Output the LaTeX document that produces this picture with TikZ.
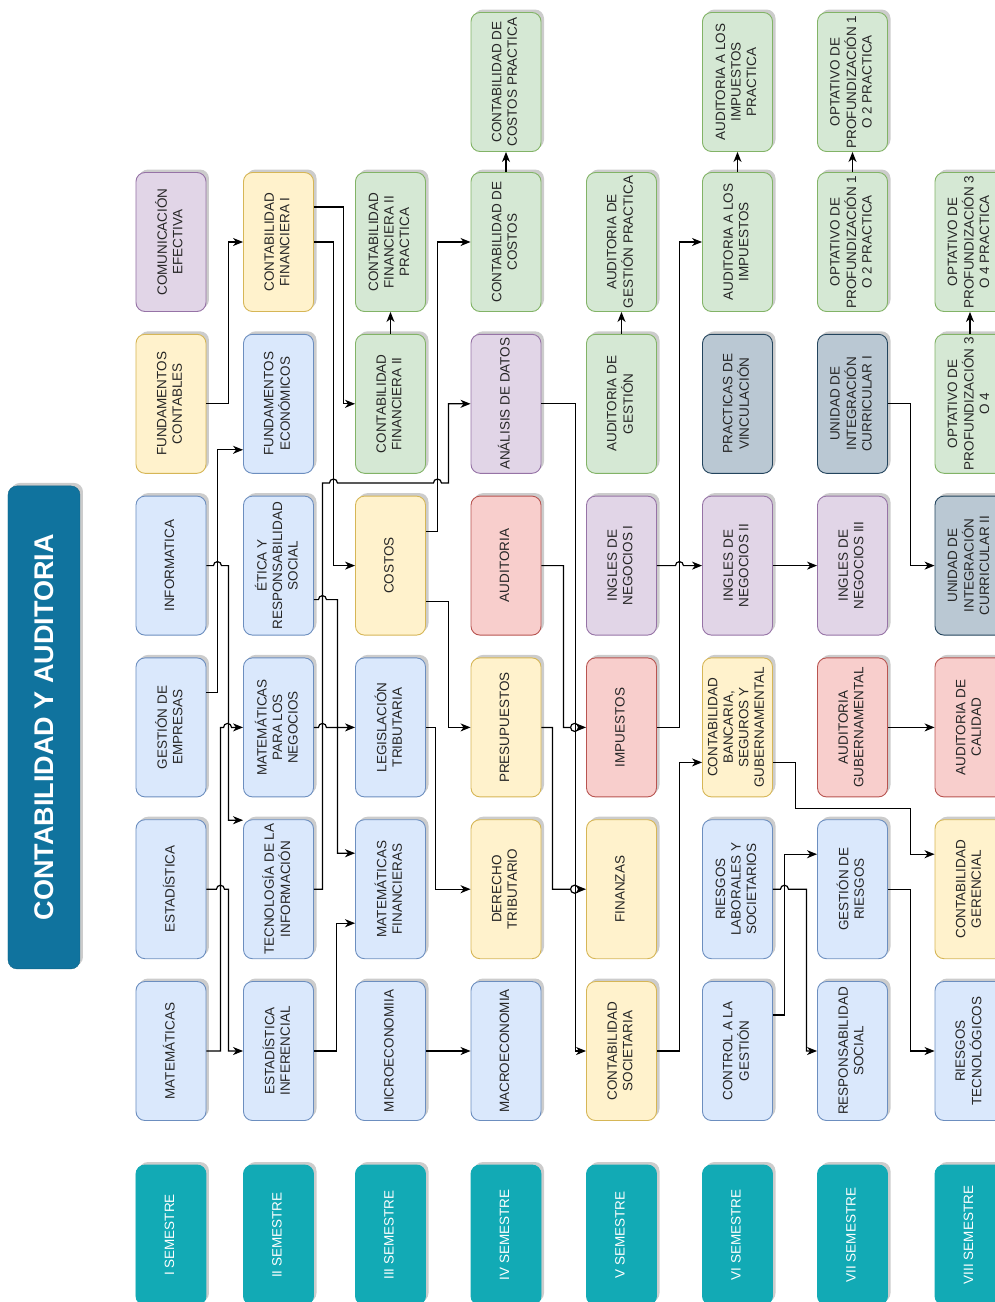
\documentclass[tikz,border=0pt]{standalone}
\usepackage{fontspec}
\setmainfont{Liberation Sans}
\usepackage{graphicx}
\usetikzlibrary{shapes,arrows.meta}
\usetikzlibrary{positioning}
\usetikzlibrary{shadows}

\definecolor{bluefill}{HTML}{DAE8FC}
\definecolor{bluedraw}{HTML}{6C8EBF}
\definecolor{yellowfill}{HTML}{FFF2CC}
\definecolor{yellowdraw}{HTML}{D6B656}
\definecolor{greenfill}{HTML}{D5E8D4}
\definecolor{greendraw}{HTML}{82B366}
\definecolor{purplefill}{HTML}{E1D5E7}
\definecolor{purpledraw}{HTML}{9673A6}
\definecolor{redfill}{HTML}{F8CECC}
\definecolor{reddraw}{HTML}{B85450}
\definecolor{grayfill}{HTML}{BAC8D3}
\definecolor{graydraw}{HTML}{23445D}
\definecolor{semfill}{HTML}{12AAB5}
\definecolor{titlefill}{HTML}{10739E}

\newcommand{\vtext}[1]{\rotatebox{90}{\begin{tabular}{@{}c@{}}#1\end{tabular}}}
\newcommand{\hop}{arc[start angle=180, end angle=0, radius=4pt]}
\newcommand{\ring}{arc[start angle=180, end angle=0, radius=4pt]
  arc[start angle=0, end angle=-180, radius=4pt] ++(8,0)}

\tikzstyle{block} = [rectangle, draw, line width=0.9pt, rounded corners=9pt,
    minimum width=70pt, minimum height=139pt, inner sep=0pt, text=black!85,
    font=\fontsize{13.5}{15.5}\selectfont,
    drop shadow={shadow xshift=3pt, shadow yshift=3pt, opacity=.4}]
\tikzstyle{blueblock} = [block, fill=bluefill, draw=bluedraw]
\tikzstyle{yellowblock} = [block, fill=yellowfill, draw=yellowdraw]
\tikzstyle{greenblock} = [block, fill=greenfill, draw=greendraw]
\tikzstyle{purpleblock} = [block, fill=purplefill, draw=purpledraw]
\tikzstyle{redblock} = [block, fill=redfill, draw=reddraw]
\tikzstyle{grayblock} = [block, fill=grayfill, draw=graydraw]
\tikzstyle{semester} = [block, minimum height=140pt, fill=semfill, draw=semfill,
    text=white]
\tikzstyle{titleblock} = [rectangle, rounded corners=9pt, fill=titlefill,
    draw=titlefill!85!black, minimum width=72pt, minimum height=483pt,
    text=white, font=\fontsize{27}{30}\selectfont\bfseries,
    drop shadow={shadow xshift=3pt, shadow yshift=3pt, opacity=.4}]
\tikzstyle{line} = [draw, line width=1.2pt, -{Stealth[length=10pt, width=8pt, inset=3pt]}]

\begin{document}
\begin{tikzpicture}[x=1pt, y=1pt, node distance=161.8pt]
  \useasboundingbox (-171,242) rectangle (824,-1060);
  % Place nodes
  % I semestre
  \node [purpleblock] (comef) {\vtext{COMUNICACIÓN\\EFECTIVA}};
  \node [yellowblock, below of=comef] (fundcont) {\vtext{FUNDAMENTOS\\CONTABLES}};
  \node [blueblock, below of=fundcont] (info) {\vtext{INFORMATICA}};
  \node [blueblock, below of=info] (gesemp) {\vtext{GESTIÓN DE\\EMPRESAS}};
  \node [blueblock, below of=gesemp] (estad) {\vtext{ESTADÍSTICA}};
  \node [blueblock, below of=estad] (mat) {\vtext{MATEMÁTICAS}};
  \node [semester, below of=mat, node distance=184pt] (sem1) {\vtext{I SEMESTRE}};
  \node [titleblock, left of=gesemp, node distance=127pt] (title) {\rotatebox{90}{CONTABILIDAD Y AUDITORIA}};

  % II semestre
  \node [yellowblock, right of=comef, node distance=107.5pt] (contfin1) {\vtext{CONTABILIDAD\\FINANCIERA I}};
  \node [blueblock, below of=contfin1] (fundeco) {\vtext{FUNDAMENTOS\\ECONÓMICOS}};
  \node [blueblock, below of=fundeco] (etica) {\vtext{ÉTICA Y\\RESPONSABILIDAD\\SOCIAL}};
  \node [blueblock, below of=etica] (matneg) {\vtext{MATEMÁTICAS\\PARA LOS\\NEGOCIOS}};
  \node [blueblock, below of=matneg] (tecinf) {\vtext{TECNOLOGÍA DE LA\\INFORMACIÓN}};
  \node [blueblock, below of=tecinf] (estinf) {\vtext{ESTADÍSTICA\\INFERENCIAL}};
  \node [semester, below of=estinf, node distance=184pt] (sem2) {\vtext{II SEMESTRE}};

  % III semestre
  \node [greenblock, right of=contfin1, node distance=112pt] (contfin2p) {\vtext{CONTABILIDAD\\FINANCIERA II\\PRACTICA}};
  \node [greenblock, below of=contfin2p] (contfin2) {\vtext{CONTABILIDAD\\FINANCIERA II}};
  \node [yellowblock, below of=contfin2] (costos) {\vtext{COSTOS}};
  \node [blueblock, below of=costos] (legtrib) {\vtext{LEGISLACIÓN\\TRIBUTARIA}};
  \node [blueblock, below of=legtrib] (matfin) {\vtext{MATEMÁTICAS\\FINANCIERAS}};
  \node [blueblock, below of=matfin] (microec) {\vtext{MICROECONOMIIA}};
  \node [semester, below of=microec, node distance=184pt] (sem3) {\vtext{III SEMESTRE}};

  % IV semestre
  \node [greenblock, right of=contfin2p, node distance=115.5pt] (contcos) {\vtext{CONTABILIDAD DE\\COSTOS}};
  \node [greenblock, above of=contcos, node distance=160pt] (contcosp) {\vtext{CONTABILIDAD DE\\COSTOS PRACTICA}};
  \node [purpleblock, below of=contcos] (anadat) {\vtext{ANÁLISIS DE DATOS}};
  \node [redblock, below of=anadat] (audit) {\vtext{AUDITORIA}};
  \node [yellowblock, below of=audit] (presup) {\vtext{PRESUPUESTOS}};
  \node [yellowblock, below of=presup] (dertrib) {\vtext{DERECHO\\TRIBUTARIO}};
  \node [blueblock, below of=dertrib] (macroec) {\vtext{MACROECONOMIA}};
  \node [semester, below of=macroec, node distance=184pt] (sem4) {\vtext{IV SEMESTRE}};

  % V semestre
  \node [greenblock, right of=contcos, node distance=115.5pt] (audgesp) {\vtext{AUDITORIA DE\\GESTIÓN PRACTICA}};
  \node [greenblock, below of=audgesp] (audges) {\vtext{AUDITORIA DE\\GESTIÓN}};
  \node [purpleblock, below of=audges] (ingl1) {\vtext{INGLES DE\\NEGOCIOS I}};
  \node [redblock, below of=ingl1] (impues) {\vtext{IMPUESTOS}};
  \node [yellowblock, below of=impues] (finanz) {\vtext{FINANZAS}};
  \node [yellowblock, below of=finanz] (contsoc) {\vtext{CONTABILIDAD\\SOCIETARIA}};
  \node [semester, below of=contsoc, node distance=184pt] (sem5) {\vtext{V SEMESTRE}};

  % VI semestre
  \node [greenblock, right of=audgesp, node distance=116pt] (audimp) {\vtext{AUDITORIA A LOS\\IMPUESTOS}};
  \node [greenblock, above of=audimp, node distance=160pt] (audimpp) {\vtext{AUDITORIA A LOS\\IMPUESTOS\\PRACTICA}};
  \node [grayblock, below of=audimp] (practvin) {\vtext{PRACTICAS DE\\VINCULACIÓN}};
  \node [purpleblock, below of=practvin] (ingl2) {\vtext{INGLES DE\\NEGOCIOS II}};
  \node [yellowblock, below of=ingl2] (contban) {\vtext{CONTABILIDAD\\BANCARIA,\\SEGUROS Y\\GUBERNAMENTAL}};
  \node [blueblock, below of=contban] (riesglab) {\vtext{RIESGOS\\LABORALES Y\\SOCIETARIOS}};
  \node [blueblock, below of=riesglab] (contges) {\vtext{CONTROL A LA\\GESTIÓN}};
  \node [semester, below of=contges, node distance=184pt] (sem6) {\vtext{VI SEMESTRE}};

  % VII semestre
  \node [greenblock, right of=audimp, node distance=115pt] (opt12) {\vtext{OPTATIVO DE\\PROFUNDIZACIÓN 1\\O 2 PRACTICA}};
  \node [greenblock, above of=opt12, node distance=160pt] (opt12p) {\vtext{OPTATIVO DE\\PROFUNDIZACIÓN 1\\O 2 PRACTICA}};
  \node [grayblock, below of=opt12] (uic1) {\vtext{UNIDAD DE\\INTEGRACIÓN\\CURRICULAR I}};
  \node [purpleblock, below of=uic1] (ingl3) {\vtext{INGLES DE\\NEGOCIOS III}};
  \node [redblock, below of=ingl3] (audgub) {\vtext{AUDITORIA\\GUBERNAMENTAL}};
  \node [blueblock, below of=audgub] (gesrie) {\vtext{GESTIÓN DE\\RIESGOS}};
  \node [blueblock, below of=gesrie] (respsoc) {\vtext{RESPONSABILIDAD\\SOCIAL}};
  \node [semester, below of=respsoc, node distance=184pt] (sem7) {\vtext{VII SEMESTRE}};

  % VIII semestre
  \node [greenblock, right of=opt12, node distance=117.5pt] (opt34p) {\vtext{OPTATIVO DE\\PROFUNDIZACIÓN 3\\O 4 PRACTICA}};
  \node [greenblock, below of=opt34p] (opt34) {\vtext{OPTATIVO DE\\PROFUNDIZACIÓN 3\\O 4}};
  \node [grayblock, below of=opt34] (uic2) {\vtext{UNIDAD DE\\INTEGRACIÓN\\CURRICULAR II}};
  \node [redblock, below of=uic2] (audcal) {\vtext{AUDITORIA DE\\CALIDAD}};
  \node [yellowblock, below of=audcal] (contger) {\vtext{CONTABILIDAD\\GERENCIAL}};
  \node [blueblock, below of=contger] (riestec) {\vtext{RIESGOS\\TECNOLÓGICOS}};
  \node [semester, below of=riestec, node distance=184pt] (sem8) {\vtext{VIII SEMESTRE}};

  % Draw edges
  \path [line] (fundcont.east) -- ++(22,0) |- (contfin1.west);
  \path [line] ([yshift=35pt]gesemp.east) -- ++(11,0) |- ([yshift=-46pt]fundeco.west);
  \path [line] (info.east) -- ++(7,0) \hop -- ++(7,0) |- ([yshift=69pt]tecinf.west);
  \path [line] (estad.east) -- ++(10,0) \hop -- ++(4,0) |- (estinf.west);
  \path [line] (mat.east) -- ++(14,0) |- ([xshift=-19.5pt]matneg.west) \hop -- (matneg.west);

  \path [line] ([yshift=35pt]contfin1.east) -- ++(29.5,0) |- (contfin2.west);
  \path [line] (contfin1.east) -- ++(19.5,0) |- (costos.west);
  \path [line] ([yshift=-34pt]etica.east) -- ++(4.5,0) \hop -- ++(11,0) |- (legtrib.west);
  \path [line] (matneg.east) -- ++(4.5,0) \hop -- ++(11,0) |- ([yshift=36pt]matfin.west);
  \path [line] (estinf.east) -- ++(22.5,0) |- ([yshift=-34pt]matfin.west);
  \path [line] (tecinf.east) -- ++(8.5,0) -- ++(0,406.2) -- ++(7,0) \hop
    -- ++(96,0) \hop -- ++(7,0) |- (anadat.west);

  \path [line] ([yshift=34pt]costos.east) -- ++(11.5,0) |- (contcos.west);
  \path [line] ([yshift=-36pt]costos.east) -- ++(22.5,0) |- (presup.west);
  \path [line] (legtrib.east) -- ++(9.5,0) |- (dertrib.west);
  \path [line] (microec) -- (macroec);
  \path [line] (contfin2) -- (contfin2p);
  \path [line] (contcos) -- (contcosp);

  \path [line] (anadat.east) -- ++(34,0) |- (contsoc.west);
  \path [line] (audit.east) -- ++(22,0) |- ([xshift=-15.5pt]impues.west) \ring -- (impues.west);
  \path [line] (presup.east) -- ++(11,0) |- ([xshift=-15.5pt]finanz.west) \ring -- (finanz.west);
  \path [line] (audges) -- (audgesp);

  \path [line] (impues.east) -- ++(22.5,0) |- (audimp.west);
  \path [line] (ingl1.east) -- ++(18.5,0) \hop -- (ingl2.west);
  \path [line] (contsoc.east) -- ++(22.5,0) |- ([yshift=-35pt]contban.west);
  \path [line] (audimp) -- (audimpp);

  \path [line] ([yshift=-35pt]contban.east) -- ++(22.5,0) -- ++(0,-46) -- ++(115,0)
    |- ([yshift=35pt]contger.west);
  \path [line] (ingl2) -- (ingl3);
  \path [line] (riesglab.east) -- ++(7.5,0) \hop -- ++(18,0) |- (respsoc.west);
  \path [line] ([yshift=36pt]contges.east) -- ++(11.5,0) |- ([yshift=35pt]gesrie.west);
  \path [line] (opt12) -- (opt12p);

  \path [line] (uic1.east) -- ++(22.5,0) |- (uic2.west);
  \path [line] (audgub) -- (audcal);
  \path [line] (gesrie.east) -- ++(22.5,0) |- (riestec.west);
  \path [line] (opt34) -- (opt34p);

\end{tikzpicture}
\end{document}
